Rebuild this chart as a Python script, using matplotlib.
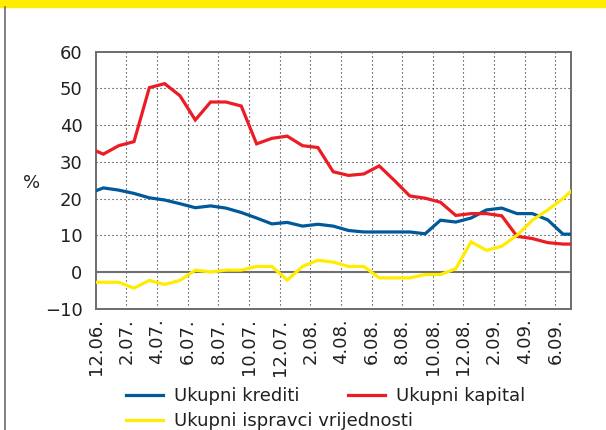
import numpy as np
import matplotlib
matplotlib.use("Agg")
import matplotlib.pyplot as plt
from matplotlib.lines import Line2D
from matplotlib.patches import Rectangle

# ---- data (monthly, positions are mid-month; first/last values fall just outside the axis and are clipped)
tick_labels = ["12.06.", "2.07.", "4.07.", "6.07.", "8.07.", "10.07.", "12.07.", "2.08.",
               "4.08.", "6.08.", "8.08.", "10.08.", "12.08.", "2.09.", "4.09.", "6.09."]

krediti = [21.3, 22.9, 22.3, 21.4, 20.2, 19.6, 18.6, 17.5, 18.0, 17.4, 16.2, 14.7, 13.1,
           13.5, 12.5, 13.0, 12.5, 11.3, 10.9, 10.9, 10.9, 10.9, 10.4, 14.1, 13.6, 14.7,
           16.9, 17.4, 15.9, 15.9, 14.2, 10.3, 10.3]
kapital = [33.9, 32.1, 34.4, 35.5, 50.2, 51.3, 48.0, 41.4, 46.3, 46.3, 45.2, 34.9, 36.4,
           37.0, 34.4, 33.9, 27.3, 26.3, 26.7, 28.9, 24.9, 20.7, 20.1, 19.0, 15.4, 15.9,
           15.9, 15.3, 9.7, 9.1, 8.0, 7.6, 7.6]
ispravci = [-2.8, -2.8, -2.8, -4.4, -2.3, -3.4, -2.3, 0.5, 0.0, 0.5, 0.5, 1.5, 1.5,
            -2.2, 1.5, 3.2, 2.7, 1.5, 1.5, -1.6, -1.6, -1.6, -0.7, -0.7, 0.9, 8.2,
            5.9, 7.0, 10.0, 14.1, 16.9, 20.0, 23.8]

labels = ["Ukupni krediti", "Ukupni kapital", "Ukupni ispravci vrijednosti"]
colors = ["#005a9a", "#ec1c24", "#ffec00"]

plt.rcParams['font.family'] = ['DejaVu Sans']
txt_color = "#231f20"

W, H = 606, 430
fig = plt.figure(figsize=(W / 100, H / 100), dpi=100)

# axes placement in pixels
L, R, T, B = 95.7, 570.7, 51.7, 308.7
ax = fig.add_axes([L / W, 1 - B / H, (R - L) / W, (B - T) / H])

n = len(krediti)
x = np.arange(n) - 0.5

ax.set_xlim(0, 31)
ax.set_ylim(-10, 60)

# grid
for xv in range(2, 31, 2):
    ax.axvline(xv, color="#222222", lw=0.8, ls=(0, (1, 2.6)), zorder=1)
for yv in range(10, 60, 10):
    ax.axhline(yv, color="#222222", lw=0.8, ls=(0, (1, 2.6)), zorder=1)
ax.axhline(0, color="#707070", lw=1.5, zorder=2)

lw = 2.3
ax.plot(x, krediti, color=colors[0], lw=lw, zorder=4, solid_joinstyle='miter')
ax.plot(x, kapital, color=colors[1], lw=lw, zorder=4, solid_joinstyle='miter')
ax.plot(x, ispravci, color=colors[2], lw=lw, zorder=5, solid_joinstyle='miter')

ax.set_xticks(np.arange(0, 31, 2))
ax.set_xticklabels(tick_labels, rotation=90, fontsize=13, color=txt_color)
ax.set_yticks(np.arange(-10, 61, 10))
ax.set_yticklabels([str(v) if v >= 0 else "\u2212" + str(-v) for v in range(-10, 61, 10)],
                   fontsize=13, color=txt_color)
ax.tick_params(axis='both', length=0)
ax.tick_params(axis='y', pad=9.5)
ax.tick_params(axis='x', pad=7)

for s in ax.spines.values():
    s.set_color("#6d6d6d")
    s.set_linewidth(1.4)

fig.text(32 / W, 1 - 183 / H, "%", fontsize=13, color=txt_color, ha='center', va='center')

# legend entries placed individually (manual wrap as in the reference)
def leg(handle_color, text, px, py):
    h = Line2D([], [], color=handle_color, lw=2.3)
    lg = fig.legend([h], [text], loc='center left', bbox_to_anchor=(px / W, 1 - py / H),
                    frameon=False, fontsize=13, borderpad=0, borderaxespad=0,
                    handlelength=2.05, handletextpad=0.6, labelcolor=txt_color)
    return lg

leg(colors[0], labels[0], 126, 396)
leg(colors[1], labels[1], 347.7, 396)
leg(colors[2], labels[2], 126, 421)

# top yellow band and left frame line
fig.patches.append(Rectangle((0, 1 - 6.5 / H), 1, 6.5 / H, transform=fig.transFigure,
                             color="#ffec00", zorder=0))
fig.lines.append(Line2D([4.6 / W, 4.6 / W], [0, 1 - 6.5 / H], transform=fig.transFigure,
                        color="#777777", lw=1.3))

fig.savefig("out.png", dpi=100)
